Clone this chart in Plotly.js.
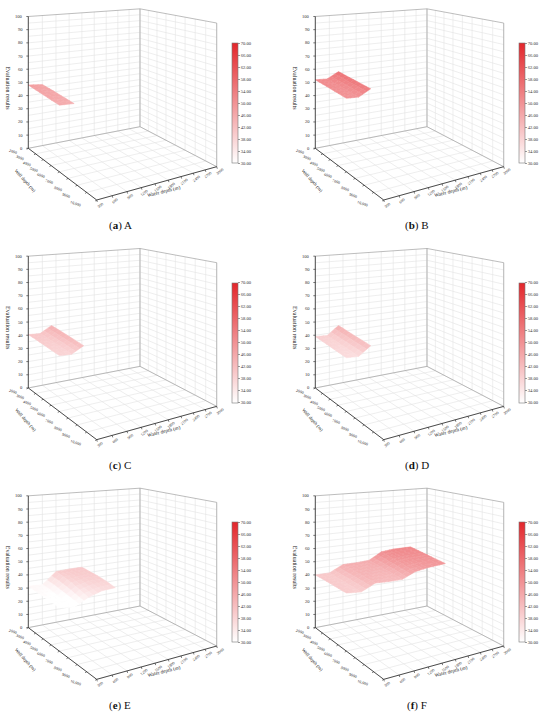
<!DOCTYPE html>
<html>
<head>
<meta charset="utf-8">
<script src="https://cdn.plot.ly/plotly-3.0.1.min.js"></script>
<style>html,body{margin:0;padding:0;background:#fff;}#chart{width:550px;height:719px;}</style>
</head>
<body>
<div id="chart"></div>
<script>
// ================= DATA =================
const panelNames = ['A', 'B', 'C', 'D', 'E', 'F'];
const panelLetters = ['a', 'b', 'c', 'd', 'e', 'f'];

// axis ranges and tick labels
const wellRange = [2000, 10000];
const waterRange = [300, 3000];
const zRange = [0, 100];
const wellTicks = [2000, 3000, 4000, 5000, 6000, 7000, 8000, 9000, 10000];
const wellTickText = ['2000', '3000', '4000', '5000', '6000', '7000', '8000', '9000', '10,000'];
const waterTicks = [300, 600, 900, 1200, 1500, 1800, 2100, 2400, 2700, 3000];
const waterTickText = ['300', '600', '900', '1200', '1500', '1800', '2100', '2400', '2700', '3000'];
const zTicks = [0, 10, 20, 30, 40, 50, 60, 70, 80, 90, 100];
const zGrid = [5, 10, 15, 20, 25, 30, 35, 40, 45, 50, 55, 60, 65, 70, 75, 80, 85, 90, 95];
const cbTicks = [30, 34, 38, 42, 46, 50, 54, 58, 62, 66, 70];

// surface grids: rows follow wellDepth, columns follow the panel's water depths
const wellDepth = [2000, 3000, 4000, 5000, 6000];

const waterA = [300, 600];
const zA = [
  [48.0, 47.0],
  [47.3, 46.5],
  [46.6, 46.0],
  [45.9, 45.4],
  [45.3, 44.8]
];
const waterB = [300, 550, 800];
const zB = [
  [52.0, 51.5, 56.0],
  [51.5, 51.0, 55.5],
  [51.0, 50.5, 55.0],
  [50.5, 50.0, 54.5],
  [50.0, 49.5, 54.0]
];
const waterC = [300, 550, 800];
const zC = [
  [40.5, 40.0, 45.0],
  [40.0, 39.5, 44.3],
  [39.3, 38.8, 43.6],
  [38.6, 38.2, 42.8],
  [38.0, 37.5, 42.0]
];
const waterD = [300, 550, 800];
const zD = [
  [39.0, 38.5, 45.0],
  [38.4, 37.9, 44.2],
  [37.8, 37.3, 43.4],
  [37.1, 36.7, 42.7],
  [36.5, 36.0, 42.0]
];
const waterE = [300, 600, 900, 1200, 1500];
const zE = [
  [31.5, 31.0, 39.5, 40.0, 40.0],
  [31.0, 30.5, 38.5, 39.5, 39.5],
  [30.5, 29.5, 37.0, 39.0, 39.0],
  [30.0, 28.5, 35.0, 37.5, 38.0],
  [29.5, 28.0, 33.0, 36.0, 36.5]
];
const waterF = [300, 600, 900, 1200, 1500, 1800, 2100, 2550];
const zF = [
  [40.0, 40.0, 45.0, 45.0, 45.5, 51.0, 52.0, 52.0],
  [40.0, 39.6, 44.5, 44.4, 44.8, 50.0, 51.0, 51.3],
  [39.8, 39.3, 44.0, 43.8, 44.0, 49.0, 50.0, 50.5],
  [39.6, 38.9, 43.5, 43.1, 43.2, 47.8, 49.0, 49.7],
  [39.5, 38.5, 43.0, 42.5, 42.5, 46.5, 48.0, 49.0]
];
const waterSets = [waterA, waterB, waterC, waterD, waterE, waterF];
const zSets = [zA, zB, zC, zD, zE, zF];

// ================= RENDERING =================
const W = 550, H = 719, PW = 275, PH = H / 3;
const FONT = 'Liberation Serif, Times New Roman, serif';
const cMin = 30, cMax = 70;
const cLow = [255, 255, 255], cHigh = [227, 38, 43];
const colorscale = [[0, 'rgb(255,255,255)'], [1, 'rgb(227,38,43)']];

function colorOf(z) {
  let f = (z - cMin) / (cMax - cMin);
  f = Math.max(0, Math.min(1, f));
  const c = cLow.map((lo, k) => Math.round(lo + (cHigh[k] - lo) * f));
  return 'rgb(' + c.join(',') + ')';
}

// perspective projection of the 3D box (panel-local pixel space)
const YH = -56, WC = 1.55;
function makeProj(xs) {
  const p0 = [28.3 + xs, 148.3], p1 = [96.7 + xs, 200], p2 = [216.7 + xs, 166.7], p3 = [140 + xs, 126.7];
  const dx1 = p1[0] - p2[0], dx2 = p3[0] - p2[0], sx = p0[0] - p1[0] + p2[0] - p3[0];
  const dy1 = p1[1] - p2[1], dy2 = p3[1] - p2[1], sy = p0[1] - p1[1] + p2[1] - p3[1];
  const den = dx1 * dy2 - dx2 * dy1;
  const g = (sx * dy2 - dx2 * sy) / den, h = (dx1 * sy - sx * dy1) / den;
  const a = p1[0] - p0[0] + g * p1[0], b = p3[0] - p0[0] + h * p3[0], c = p0[0];
  const d = p1[1] - p0[1] + g * p1[1], e = p3[1] - p0[1] + h * p3[1], f = p0[1];
  return function (well, water, z) {
    const u = (well - wellRange[0]) / (wellRange[1] - wellRange[0]);
    const v = (water - waterRange[0]) / (waterRange[1] - waterRange[0]);
    const w = (z - zRange[0]) / (zRange[1] - zRange[0]);
    const q = g * u + h * v + 1;
    const X = (a * u + b * v + c) / q;
    const Yf = (d * u + e * v + f) / q;
    return [X, Yf + (YH - Yf) * w / WC, Yf - YH];
  };
}

const traces = [];
const layout = {
  width: W, height: H,
  margin: {l: 0, r: 0, t: 0, b: 0},
  paper_bgcolor: '#ffffff', plot_bgcolor: 'rgba(0,0,0,0)',
  showlegend: false,
  font: {family: FONT, color: '#222'},
  annotations: []
};

function lineTrace(ax, segs, color, width) {
  const xs = [], ys = [];
  segs.forEach(s => { s.forEach(p => { xs.push(p[0]); ys.push(p[1]); }); xs.push(null); ys.push(null); });
  return {type: 'scatter', mode: 'lines', x: xs, y: ys, xaxis: 'x' + ax, yaxis: 'y' + ax,
          line: {color: color, width: width}, hoverinfo: 'skip', cliponaxis: false};
}

for (let i = 0; i < 6; i++) {
  const col = i % 2, row = Math.floor(i / 2);
  const ax = i === 0 ? '' : String(i + 1);
  const x0 = col * PW, y0 = row * PH;
  const xs = col === 0 ? 0 : 12;
  const P = makeProj(xs);
  const wl0 = wellRange[0], wl1 = wellRange[1], wa0 = waterRange[0], wa1 = waterRange[1];
  const zt = zRange[1];

  layout['xaxis' + ax] = {domain: [x0 / W, (x0 + PW) / W], range: [0, PW], visible: false, fixedrange: true, anchor: 'y' + ax};
  layout['yaxis' + ax] = {domain: [Math.max(0, 1 - (y0 + PH) / H), 1 - y0 / H], range: [PH, 0], visible: false, fixedrange: true, anchor: 'x' + ax};

  // grid lines
  const grid = [];
  waterTicks.forEach(t => {
    grid.push([P(wl0, t, 0), P(wl1, t, 0)]);
    grid.push([P(wl0, t, 0), P(wl0, t, zt)]);
  });
  wellTicks.forEach(t => {
    grid.push([P(t, wa0, 0), P(t, wa1, 0)]);
    grid.push([P(t, wa1, 0), P(t, wa1, zt)]);
  });
  zGrid.forEach(t => {
    grid.push([P(wl0, wa0, t), P(wl0, wa1, t)]);
    grid.push([P(wl0, wa1, t), P(wl1, wa1, t)]);
  });
  traces.push(lineTrace(ax, grid, '#e2e2e2', 0.6));

  // box edges
  const edges = [
    [P(wl0, wa0, zt), P(wl0, wa1, zt)], [P(wl0, wa1, zt), P(wl1, wa1, zt)],
    [P(wl0, wa1, 0), P(wl0, wa1, zt)], [P(wl1, wa1, 0), P(wl1, wa1, zt)],
    [P(wl0, wa0, 0), P(wl0, wa1, 0)], [P(wl0, wa1, 0), P(wl1, wa1, 0)]
  ];
  traces.push(lineTrace(ax, edges, '#a0a0a0', 0.7));

  // surface cells, subdivided with bilinear interpolation, painted back to front
  const wat = waterSets[i], zz = zSets[i];
  const nu = 2, nv = 3;
  const cells = [];
  const val = (r, c, fu, fv) => {
    const a = zz[r][c], b = zz[r][c + 1], cc = zz[r + 1][c], d = zz[r + 1][c + 1];
    return a * (1 - fu) * (1 - fv) + b * (1 - fu) * fv + cc * fu * (1 - fv) + d * fu * fv;
  };
  for (let r = 0; r < wellDepth.length - 1; r++) {
    for (let c = 0; c < wat.length - 1; c++) {
      for (let su = 0; su < nu; su++) {
        for (let sv = 0; sv < nv; sv++) {
          const fu0 = su / nu, fu1 = (su + 1) / nu, fv0 = sv / nv, fv1 = (sv + 1) / nv;
          const wlA = wellDepth[r] + (wellDepth[r + 1] - wellDepth[r]) * fu0;
          const wlB = wellDepth[r] + (wellDepth[r + 1] - wellDepth[r]) * fu1;
          const waA = wat[c] + (wat[c + 1] - wat[c]) * fv0;
          const waB = wat[c] + (wat[c + 1] - wat[c]) * fv1;
          const pts = [
            P(wlA, waA, val(r, c, fu0, fv0)), P(wlA, waB, val(r, c, fu0, fv1)),
            P(wlB, waB, val(r, c, fu1, fv1)), P(wlB, waA, val(r, c, fu1, fv0))
          ];
          const zc = val(r, c, (fu0 + fu1) / 2, (fv0 + fv1) / 2);
          const depth = (pts[0][2] + pts[1][2] + pts[2][2] + pts[3][2]) / 4;
          cells.push({pts, zc, depth});
        }
      }
    }
  }
  cells.sort((p, q) => p.depth - q.depth);
  cells.forEach(cell => {
    const col_ = colorOf(cell.zc);
    traces.push({
      type: 'scatter', mode: 'lines', fill: 'toself', fillcolor: col_,
      x: cell.pts.map(p => p[0]).concat([cell.pts[0][0]]),
      y: cell.pts.map(p => p[1]).concat([cell.pts[0][1]]),
      xaxis: 'x' + ax, yaxis: 'y' + ax,
      line: {color: col_, width: 0.5}, hoverinfo: 'skip'
    });
  });

  // axis lines (black)
  traces.push(lineTrace(ax, [
    [P(wl0, wa0, 0), P(wl0, wa0, zt)],
    [P(wl0, wa0, 0), P(wl1, wa0, 0)],
    [P(wl1, wa0, 0), P(wl1, wa1, 0)]
  ], '#222222', 0.8));

  // ticks
  const tk = [];
  zTicks.forEach(t => { const p = P(wl0, wa0, t); tk.push([p, [p[0] - 2, p[1]]]); });
  wellTicks.forEach(t => { const p = P(t, wa0, 0); tk.push([p, [p[0] - 1.6, p[1] + 1.0]]); });
  waterTicks.forEach(t => { const q = P(wl1, t, 0); tk.push([q, [q[0] + 0.6, q[1] + 2]]); });
  traces.push(lineTrace(ax, tk, '#222222', 0.6));

  // tick labels
  const xr = 'x' + ax, yr = 'y' + ax;
  zTicks.forEach(t => {
    const p = P(wl0, wa0, t);
    layout.annotations.push({xref: xr, yref: yr, x: p[0] - 3, y: p[1], xanchor: 'right', yanchor: 'middle',
      showarrow: false, text: String(t), font: {family: FONT, size: 4.6, color: '#333'}});
  });
  wellTicks.forEach((t, k) => {
    const p = P(t, wa0, 0);
    const uf = (t - wl0) / (wl1 - wl0);
    layout.annotations.push({xref: xr, yref: yr, x: p[0] - 15 - 6 * uf, y: p[1] + 3.5, xanchor: 'center', yanchor: 'middle',
      textangle: 20, showarrow: false, text: wellTickText[k], font: {family: FONT, size: 4, color: '#333'}});
  });
  waterTicks.forEach((t, k) => {
    const p = P(wl1, t, 0);
    layout.annotations.push({xref: xr, yref: yr, x: p[0] + 3, y: p[1] + 5, xanchor: 'center', yanchor: 'middle',
      textangle: -38, showarrow: false, text: waterTickText[k], font: {family: FONT, size: 4, color: '#333'}});
  });

  // axis titles
  const zm = P(wl0, wa0, 50);
  layout.annotations.push({xref: xr, yref: yr, x: 8 + xs, y: zm[1] + 6, xanchor: 'center', yanchor: 'middle',
    textangle: 90, showarrow: false, text: 'Evaluation results', font: {family: FONT, size: 6, color: '#222'}});
  layout.annotations.push({xref: xr, yref: yr, x: 25 + xs, y: 180, xanchor: 'center', yanchor: 'middle',
    textangle: 48, showarrow: false, text: 'Well depth (m)', font: {family: FONT, size: 4.8, color: '#222'}});
  const wm = P(wl1, 1650, 0);
  layout.annotations.push({xref: xr, yref: yr, x: wm[0] + 2, y: wm[1] + 10, xanchor: 'center', yanchor: 'middle',
    textangle: -14, showarrow: false, text: 'Water depth (m)', font: {family: FONT, size: 5.2, color: '#222'}});

  // colorbar via invisible marker trace
  const cbTop = y0 + 43, cbBot = y0 + 163;
  traces.push({
    type: 'scatter', mode: 'markers', x: [-100], y: [-100], xaxis: 'x' + ax, yaxis: 'y' + ax,
    hoverinfo: 'skip',
    marker: {
      size: 1, opacity: 0, color: [50], cmin: cMin, cmax: cMax, colorscale: colorscale, showscale: true,
      colorbar: {
        x: (x0 + 232 + xs) / W, xanchor: 'left',
        y: 1 - (cbTop + cbBot) / 2 / H, yanchor: 'middle',
        len: (cbBot - cbTop) / H, lenmode: 'fraction',
        thickness: 6, outlinewidth: 0.6, outlinecolor: '#777',
        ticks: 'outside', ticklen: 2, tickcolor: '#555', tickwidth: 0.6,
        tickvals: cbTicks, tickformat: '.2f',
        tickfont: {family: FONT, size: 4.6, color: '#333'},
        xpad: 0, ypad: 0
      }
    }
  });

  // caption
  const capX = x0 + (col === 0 ? 120 : 142);
  const capY = y0 + 226;
  layout.annotations.push({
    xref: 'paper', yref: 'paper', x: capX / W, y: 1 - capY / H,
    xanchor: 'center', yanchor: 'middle', showarrow: false,
    text: '(<b>' + panelLetters[i] + '</b>) ' + panelNames[i],
    font: {family: FONT, size: 11, color: '#111'}
  });
}

Plotly.newPlot('chart', traces, layout, {displayModeBar: false, staticPlot: true});
</script>
</body>
</html>
